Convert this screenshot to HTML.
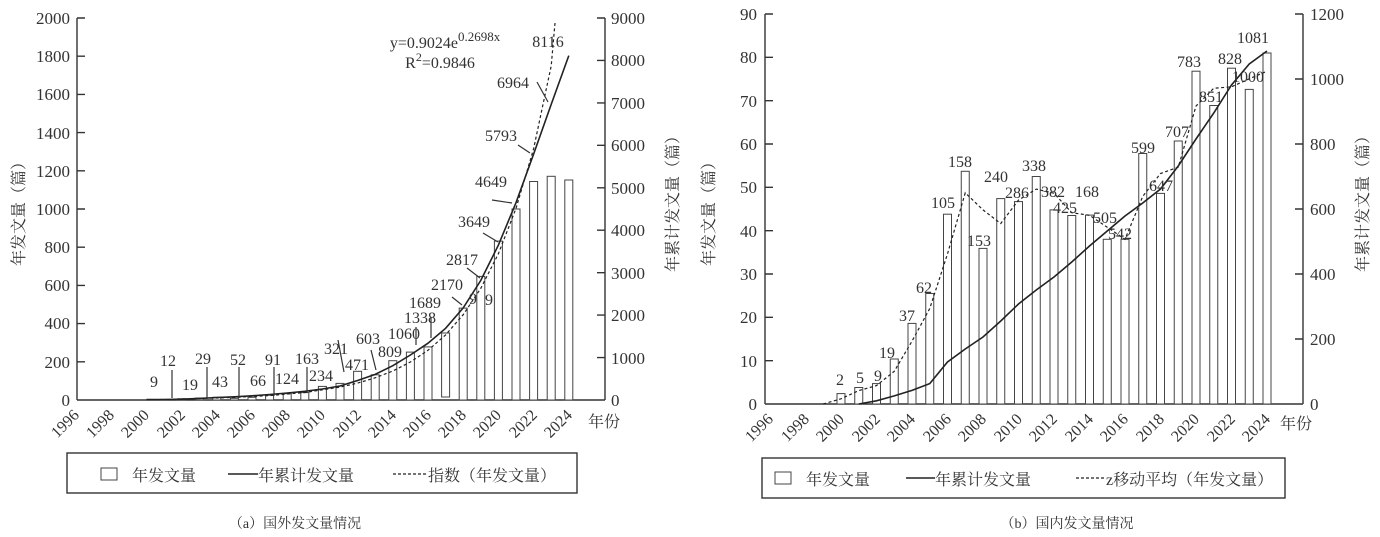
<!DOCTYPE html>
<html><head><meta charset="utf-8"><style>
html,body{margin:0;padding:0;background:#fff}
svg{display:block}
text{font-family:"Liberation Serif","Noto Serif CJK SC",serif;fill:#333}
.t{font-size:17px}
.n{font-size:16px}
.c{font-family:"Liberation Serif","Noto Serif CJK SC",serif}
</style></head><body>
<svg width="1380" height="537" viewBox="0 0 1380 537" xmlns="http://www.w3.org/2000/svg">
<g stroke="#333" fill="none" stroke-width="1.4">
<line x1="77" y1="18" x2="77" y2="400"/><line x1="605" y1="18" x2="605" y2="400"/><line x1="77" y1="400" x2="605" y2="400"/>
<path d="M77 18h8M77 56.2h8M77 94.4h8M77 132.6h8M77 170.8h8M77 209h8M77 247.2h8M77 285.4h8M77 323.6h8M77 361.8h8"/>
<path d="M605 18h-8M605 60.4h-8M605 102.9h-8M605 145.3h-8M605 187.8h-8M605 230.2h-8M605 272.7h-8M605 315.1h-8M605 357.6h-8"/>
</g>
<g stroke="#444" fill="#fff" stroke-width="1">
<rect x="160" y="399.4" width="8" height="0.6"/><rect x="177.6" y="398.7" width="8" height="1.3"/><rect x="195.2" y="398.1" width="8" height="1.9"/><rect x="212.8" y="397.3" width="8" height="2.7"/><rect x="230.4" y="398.3" width="8" height="1.7"/><rect x="248" y="397.3" width="8" height="2.7"/><rect x="265.6" y="395.2" width="8" height="4.8"/><rect x="283.2" y="393.7" width="8" height="6.3"/><rect x="300.8" y="392.6" width="8" height="7.4"/><rect x="318.4" y="386.4" width="8" height="13.6"/><rect x="336" y="383.4" width="8" height="16.6"/><rect x="353.6" y="371.3" width="8" height="28.7"/><rect x="371.2" y="374.8" width="8" height="25.2"/><rect x="388.8" y="360.7" width="8" height="39.3"/><rect x="406.4" y="352.1" width="8" height="47.9"/><rect x="424" y="346.9" width="8" height="53.1"/><rect x="441.6" y="333" width="8" height="64"/><rect x="459.2" y="308.1" width="8" height="91.9"/><rect x="476.8" y="276.4" width="8" height="123.6"/><rect x="494.4" y="241.1" width="8" height="158.9"/><rect x="512" y="209" width="8" height="191"/><rect x="529.6" y="181.5" width="8" height="218.5"/><rect x="547.2" y="176.3" width="8" height="223.7"/><rect x="564.8" y="180" width="8" height="220"/>
</g>
<polyline fill="none" stroke="#222" stroke-width="1.6" points="146.4,399.6 164,399.5 181.6,399.2 199.2,398.4 216.8,397.5 234.4,396.8 252,395.8 269.6,394.5 287.2,393 304.8,391.3 322.4,389 340,386 357.6,380.5 375.2,374.4 392.8,365.7 410.4,355 428,343.2 445.6,328.3 463.2,307.9 480.8,280.4 498.4,245.1 516,202.7 533.6,154.1 551.2,104.4 568.8,55.6"/>
<polyline fill="none" stroke="#222" stroke-width="1.2" stroke-dasharray="3,2.5" points="199.2,398.5 234.4,397.4 269.6,395.6 304.8,392.5 340,387.1 357.6,383.1 375.2,377.8 392.8,371 410.4,362 428,350.3 445.6,334.9 463.2,314.7 480.8,288.3 498.4,253.7 516,208.4 533.6,148.8 545,95 551.2,66 555,23"/>
<g stroke="#333" stroke-width="1.2" fill="none">
<path d="M172 370v28M207 367v32M239 367v31M274 367v29M307 367v26M338 340l6 32M371 350l5 20M416 345v-18M431 338v-21M452 297l10 8M467 268l13 10M483 233l15 9M492 200l20 3M518 145l12 8M537 82l11 20"/>
</g>
<g class="n" text-anchor="middle">
<text x="154" y="387">9</text><text x="168" y="366">12</text><text x="190" y="390">19</text><text x="203" y="364">29</text><text x="220" y="387">43</text><text x="238" y="365">52</text><text x="258" y="386">66</text><text x="273" y="365">91</text><text x="287" y="384">124</text><text x="307" y="364">163</text><text x="321" y="381">234</text><text x="336" y="354">321</text><text x="357" y="370">471</text><text x="368" y="344">603</text><text x="390" y="357">809</text><text x="404" y="339">1060</text><text x="420" y="323">1338</text><text x="425" y="308">1689</text><text x="447" y="290">2170</text><text x="473" y="304">9</text><text x="489" y="305">9</text><text x="462" y="265">2817</text><text x="474" y="227">3649</text><text x="491" y="187">4649</text><text x="501" y="141">5793</text><text x="513" y="88">6964</text><text x="548" y="47">8116</text>
<text x="445" y="48">y=0.9024e<tspan font-size="13" dy="-7">0.2698x</tspan></text>
<text x="440" y="68">R<tspan font-size="12" dy="-7">2</tspan><tspan dy="7">=0.9846</tspan></text>
</g>
<g class="t" text-anchor="end">
<text x="70" y="24">2000</text><text x="70" y="62">1800</text><text x="70" y="100">1600</text><text x="70" y="139">1400</text><text x="70" y="177">1200</text><text x="70" y="215">1000</text><text x="70" y="253">800</text><text x="70" y="291">600</text><text x="70" y="329">400</text><text x="70" y="368">200</text><text x="70" y="406">0</text>
</g>
<g class="t">
<text x="611" y="24">9000</text><text x="611" y="66">8000</text><text x="611" y="109">7000</text><text x="611" y="151">6000</text><text x="611" y="194">5000</text><text x="611" y="236">4000</text><text x="611" y="279">3000</text><text x="611" y="321">2000</text><text x="611" y="364">1000</text><text x="611" y="406">0</text>
</g>
<g class="n" text-anchor="end">
<text transform="translate(80,416) rotate(-45)">1996</text><text transform="translate(115,416) rotate(-45)">1998</text><text transform="translate(150,416) rotate(-45)">2000</text><text transform="translate(186,416) rotate(-45)">2002</text><text transform="translate(221,416) rotate(-45)">2004</text><text transform="translate(256,416) rotate(-45)">2006</text><text transform="translate(291,416) rotate(-45)">2008</text><text transform="translate(326,416) rotate(-45)">2010</text><text transform="translate(362,416) rotate(-45)">2012</text><text transform="translate(397,416) rotate(-45)">2014</text><text transform="translate(432,416) rotate(-45)">2016</text><text transform="translate(467,416) rotate(-45)">2018</text><text transform="translate(502,416) rotate(-45)">2020</text><text transform="translate(538,416) rotate(-45)">2022</text><text transform="translate(573,416) rotate(-45)">2024</text>
</g>
<text class="c" x="588" y="427" font-size="16">年份</text>
<text class="c" font-size="16" text-anchor="middle" transform="translate(24,210) rotate(-90)">年发文量（篇）</text>
<text class="c" font-size="16" text-anchor="middle" transform="translate(678,200) rotate(-90)">年累计发文量（篇）</text>
<rect x="67" y="453" width="510" height="40" fill="none" stroke="#333" stroke-width="1.4"/>
<rect x="101" y="468" width="16" height="12" fill="#fff" stroke="#444"/>
<text class="c" x="132" y="481" font-size="16">年发文量</text>
<line x1="228" y1="474" x2="258" y2="474" stroke="#222" stroke-width="1.5"/>
<text class="c" x="258" y="481" font-size="16">年累计发文量</text>
<line x1="393" y1="474" x2="427" y2="474" stroke="#222" stroke-width="1.2" stroke-dasharray="3,2"/>
<text class="c" x="428" y="481" font-size="16">指数（年发文量）</text>
<text class="c" x="295" y="528" font-size="14" text-anchor="middle">（a）国外发文量情况</text>

<g stroke="#333" fill="none" stroke-width="1.4">
<line x1="765" y1="14" x2="765" y2="404"/><line x1="1303" y1="14" x2="1303" y2="404"/><line x1="765" y1="404" x2="1303" y2="404"/>
<path d="M765 14h8M765 57.3h8M765 100.7h8M765 144h8M765 187.3h8M765 230.7h8M765 274h8M765 317.3h8M765 360.7h8"/>
<path d="M1303 14h-8M1303 79h-8M1303 144h-8M1303 209h-8M1303 274h-8M1303 339h-8"/>
</g>
<g stroke="#444" fill="#fff" stroke-width="1">
<rect x="837" y="393.6" width="8" height="10.4"/><rect x="854.75" y="387.5" width="8" height="16.5"/><rect x="872.5" y="383.6" width="8" height="20.4"/><rect x="890.25" y="359" width="8" height="45"/><rect x="908" y="323.4" width="8" height="80.6"/><rect x="925.75" y="293.5" width="8" height="110.5"/><rect x="943.5" y="214.2" width="8" height="189.8"/><rect x="961.25" y="171.3" width="8" height="232.7"/><rect x="979" y="248.4" width="8" height="155.6"/><rect x="996.75" y="198.6" width="8" height="205.4"/><rect x="1014.5" y="201.6" width="8" height="202.4"/><rect x="1032.25" y="176.5" width="8" height="227.5"/><rect x="1050" y="209.9" width="8" height="194.1"/><rect x="1067.75" y="215.5" width="8" height="188.5"/><rect x="1085.5" y="215.1" width="8" height="188.9"/><rect x="1103.25" y="239.3" width="8" height="164.7"/><rect x="1121" y="239.3" width="8" height="164.7"/><rect x="1138.75" y="153.5" width="8" height="250.5"/><rect x="1156.5" y="193.4" width="8" height="210.6"/><rect x="1174.25" y="141" width="8" height="263"/><rect x="1192" y="71.2" width="8" height="332.8"/><rect x="1209.75" y="105.5" width="8" height="298.5"/><rect x="1227.5" y="68.2" width="8" height="335.8"/><rect x="1245.25" y="89.4" width="8" height="314.6"/><rect x="1263" y="53" width="8" height="351"/>
</g>
<polyline fill="none" stroke="#222" stroke-width="1.6" points="858.75,404 876.5,400.8 894.25,395.9 912,390.4 929.75,383.6 947.5,362 965.25,349 983,337 1000.75,321 1018.5,304 1036.25,290 1054,277 1071.75,262 1089.5,246 1107.25,231 1125,216 1142.75,203 1160.5,189 1178.25,166 1196,139 1213.75,113 1231.5,85 1249.25,64 1267,51"/>
<polyline fill="none" stroke="#222" stroke-width="1.2" stroke-dasharray="3,2.5" points="823.25,404 841,398.8 858.75,390.6 876.5,385.6 894.25,371.3 912,341.2 929.75,308.5 947.5,253.9 965.25,192.8 983,209.9 1000.75,223.5 1018.5,200.1 1036.25,189.1 1054,193.2 1071.75,212.7 1089.5,215.3 1107.25,227.2 1125,239.3 1142.75,196.4 1160.5,173.5 1178.25,167.2 1196,106.1 1213.75,88.3 1231.5,86.8 1249.25,78.8 1267,71.2"/>
<g class="n" text-anchor="middle">
<text x="840" y="385">2</text><text x="860" y="383">5</text><text x="878" y="381">9</text><text x="887" y="358">19</text><text x="907" y="321">37</text><text x="924" y="293">62</text><text x="943" y="208">105</text><text x="960" y="167">158</text><text x="979" y="246">153</text><text x="996" y="182">240</text><text x="1017" y="198">286</text><text x="1034" y="171">338</text><text x="1053" y="197">382</text><text x="1065" y="213">425</text><text x="1087" y="197">168</text><text x="1105" y="223">505</text><text x="1120" y="239">542</text><text x="1143" y="153">599</text><text x="1161" y="191">647</text><text x="1177" y="137">707</text><text x="1189" y="67">783</text><text x="1211" y="102">851</text><text x="1230" y="64">828</text><text x="1248" y="82">1000</text><text x="1253" y="43">1081</text>
</g>
<g class="t" text-anchor="end">
<text x="757" y="20">90</text><text x="757" y="63">80</text><text x="757" y="107">70</text><text x="757" y="150">60</text><text x="757" y="193">50</text><text x="757" y="237">40</text><text x="757" y="280">30</text><text x="757" y="323">20</text><text x="757" y="367">10</text><text x="757" y="410">0</text>
</g>
<g class="t">
<text x="1310" y="20">1200</text><text x="1310" y="85">1000</text><text x="1310" y="150">800</text><text x="1310" y="215">600</text><text x="1310" y="280">400</text><text x="1310" y="345">200</text><text x="1310" y="410">0</text>
</g>
<g class="n" text-anchor="end">
<text transform="translate(774,420) rotate(-45)">1996</text><text transform="translate(810,420) rotate(-45)">1998</text><text transform="translate(845,420) rotate(-45)">2000</text><text transform="translate(881,420) rotate(-45)">2002</text><text transform="translate(916,420) rotate(-45)">2004</text><text transform="translate(952,420) rotate(-45)">2006</text><text transform="translate(987,420) rotate(-45)">2008</text><text transform="translate(1023,420) rotate(-45)">2010</text><text transform="translate(1058,420) rotate(-45)">2012</text><text transform="translate(1094,420) rotate(-45)">2014</text><text transform="translate(1129,420) rotate(-45)">2016</text><text transform="translate(1165,420) rotate(-45)">2018</text><text transform="translate(1200,420) rotate(-45)">2020</text><text transform="translate(1236,420) rotate(-45)">2022</text><text transform="translate(1271,420) rotate(-45)">2024</text>
</g>
<text class="c" x="1280" y="429" font-size="16">年份</text>
<text class="c" font-size="16" text-anchor="middle" transform="translate(714,210) rotate(-90)">年发文量（篇）</text>
<text class="c" font-size="16" text-anchor="middle" transform="translate(1368,200) rotate(-90)">年累计发文量（篇）</text>
<rect x="762" y="458" width="523" height="40" fill="none" stroke="#333" stroke-width="1.4"/>
<rect x="775" y="472" width="16" height="12" fill="#fff" stroke="#444"/>
<text class="c" x="806" y="485" font-size="16">年发文量</text>
<line x1="906" y1="478" x2="935" y2="478" stroke="#222" stroke-width="1.5"/>
<text class="c" x="935" y="485" font-size="16">年累计发文量</text>
<line x1="1076" y1="478" x2="1104" y2="478" stroke="#222" stroke-width="1.2" stroke-dasharray="3,2"/>
<text class="c" x="1106" y="485" font-size="16">z移动平均（年发文量）</text>
<text class="c" x="1067" y="528" font-size="14" text-anchor="middle">（b）国内发文量情况</text>
</svg>
</body></html>
